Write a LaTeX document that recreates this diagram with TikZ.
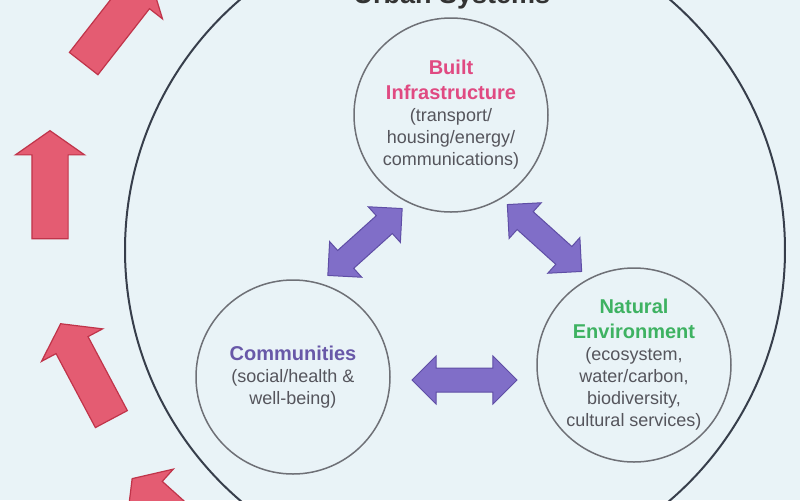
\documentclass[tikz,border=0pt]{standalone}
\usepackage{fontspec}
\setmainfont{Liberation Sans}
\usetikzlibrary{shapes.arrows,calc}

\definecolor{bgblue}{RGB}{233,243,247}
\definecolor{ringgray}{RGB}{110,112,118}
\definecolor{outerring}{RGB}{55,62,75}
\definecolor{builtpink}{RGB}{224,74,130}
\definecolor{commpurple}{RGB}{104,88,168}
\definecolor{natgreen}{RGB}{62,178,98}
\definecolor{bodygray}{RGB}{85,85,92}
\definecolor{linkfill}{RGB}{128,110,200}
\definecolor{linkdraw}{RGB}{95,78,165}
\definecolor{pushfill}{RGB}{228,92,114}
\definecolor{pushdraw}{RGB}{192,52,74}

\newcommand{\unithead}[2]{{\fontsize{10}{12}\selectfont\bfseries\color{#1}#2}}

\begin{document}
\begin{tikzpicture}[x=0.5pt,y=-0.5pt,
	unit/.style={circle,draw=ringgray,line width=0.75pt,minimum size=97pt,inner sep=0pt,align=center,text=bodygray,font=\fontsize{9}{11}\selectfont},
	link/.style={double arrow,fill=linkfill,draw=linkdraw,line width=0.5pt,inner xsep=0pt,inner ysep=5.75pt,double arrow head extend=6pt,minimum height=50pt},
	push/.style={single arrow,fill=pushfill,draw=pushdraw,line width=0.6pt,inner xsep=0pt,inner ysep=8.75pt,single arrow head extend=8.25pt,single arrow tip angle=110,minimum height=54pt}]
	\useasboundingbox (0,0) rectangle (800,500);
	\clip (0,0) rectangle (800,500);
	\fill[bgblue] (0,0) rectangle (800,500);

	\node[circle,draw=outerring,line width=1pt,minimum size=330pt] (city) at (455,250) {};
	\node[anchor=base,text=black!80,font=\fontsize{13.5}{16}\selectfont\bfseries] (title) at (452,3) {Urban Systems};

	\node[unit] (built) at (451,115) {\unithead{builtpink}{Built}\\[1.5pt]\unithead{builtpink}{Infrastructure}\\(transport/\\housing/energy/\\communications)};
	\node[unit] (comm) at (293,377) {\unithead{commpurple}{Communities}\\(social/health \&\\well-being)};
	\node[unit] (natenv) at (634,365) {\unithead{natgreen}{Natural}\\[1.5pt]\unithead{natgreen}{Environment}\\(ecosystem,\\water/carbon,\\biodiversity,\\cultural services)};

	% two-way links
	\node[link,rotate=42] (bc) at ($(built)!0.5!(comm)+(-7,-4)$) {};
	\node[link,rotate=-42] (bn) at ($(built)!0.5!(natenv)+(2,-2)$) {};
	\node[link,minimum height=52.5pt] (cn) at ($(comm)!0.5!(natenv)+(1,9)$) {};

	% outside pressures
	\node[push,rotate=52] (up1) at (113,26) {};
	\node[push,rotate=90] (up2) at (50,191) {};
	\node[push,rotate=118] (up3) at (89,377) {};
	\node[push,rotate=138] (up4) at (177,519) {};
\end{tikzpicture}
\end{document}
